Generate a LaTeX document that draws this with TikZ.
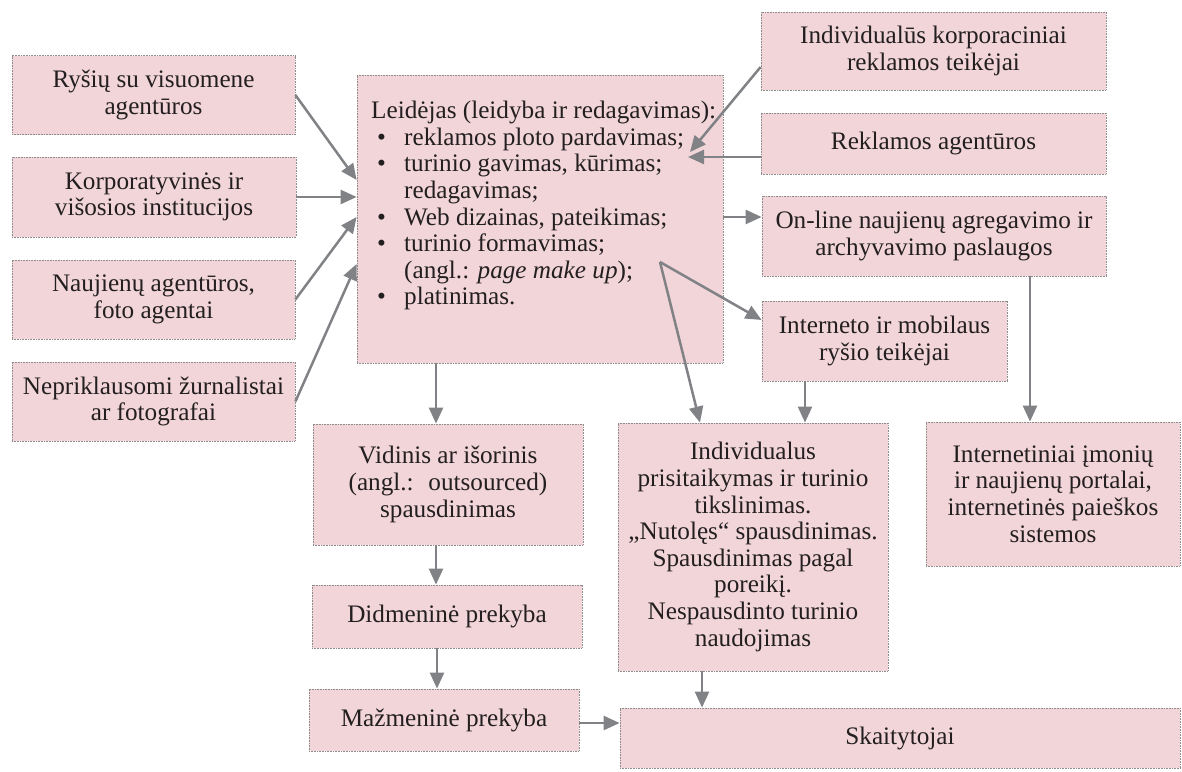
\documentclass[tikz,border=0pt]{standalone}
\usepackage{fontspec}
\setmainfont{Liberation Serif}
\usetikzlibrary{arrows.meta}
\definecolor{boxfill}{HTML}{F2D5D9}
\definecolor{boxline}{HTML}{8C8C8C}
\definecolor{arrowgray}{HTML}{808285}
\definecolor{inkdark}{HTML}{231F20}
\newcommand{\itm}[1]{\hspace*{6pt}\makebox[27pt][l]{\textbullet}#1}
\newcommand{\cnt}[1]{\hspace*{33pt}#1}
\begin{document}
\begin{tikzpicture}[x=1pt,y=-1pt,
  box/.style={draw=boxline, line width=0.8pt, dash pattern=on 0.8pt off 0.8pt,
    fill=boxfill, align=center, inner sep=0pt, text=inkdark,
    font=\fontsize{25.2}{26.6}\selectfont},
  plain/.style={inner sep=0pt, align=left, text=inkdark,
    font=\fontsize{25.2}{26.6}\selectfont},
  conn/.style={draw=arrowgray, line width=2.5pt, -{Triangle[length=16pt,width=14pt]}},
]
\useasboundingbox (0,0) rectangle (1182,771);

% sources on the left
\node[box, minimum width=283, minimum height=79] (rysiu) at (153.5,95)
  {Ryšių su visuomene\\agentūros};
\node[box, minimum width=284, minimum height=80] (korp) at (154,197)
  {Korporatyvinės ir\\višosios institucijos};
\node[box, minimum width=283, minimum height=79] (naujienu) at (153.5,299.5)
  {Naujienų agentūros,\\foto agentai};
\node[box, minimum width=283, minimum height=79] (neprik) at (153.5,401.5)
  {Nepriklausomi žurnalistai\\ar fotografai};

% publisher
\node[box, minimum width=366, minimum height=288] (leid) at (540,219) {};
\node[plain, anchor=north west] (leidtext) at (371,101) {%
  Leidėjas (leidyba ir redagavimas):\\
  \itm{reklamos ploto pardavimas;}\\
  \itm{turinio gavimas, kūrimas;}\\
  \cnt{redagavimas;}\\
  \itm{Web dizainas, pateikimas;}\\
  \itm{turinio formavimas;}\\
  \cnt{(angl.: \textit{page make up});}\\
  \itm{platinimas.}};

% right column
\node[box, minimum width=345, minimum height=78] (indkorp) at (933.5,51)
  {Individualūs korporaciniai\\reklamos teikėjai};
\node[box, minimum width=345, minimum height=61] (reklag) at (933.5,143.5)
  {Reklamos agentūros};
\node[box, minimum width=344, minimum height=80] (online) at (934,236)
  {On-line naujienų agregavimo ir\\archyvavimo paslaugos};
\node[box, minimum width=245, minimum height=80] (interneto) at (884.5,341)
  {Interneto ir mobilaus\\ryšio teikėjai};

% lower part
\node[box, minimum width=270, minimum height=121] (vidinis) at (448,484.5)
  {Vidinis ar išorinis\\(angl.:~ outsourced)\\spausdinimas};
\node[box, minimum width=270, minimum height=63] (didm) at (447,616.5)
  {Didmeninė prekyba};
\node[box, minimum width=270, minimum height=62] (mazm) at (444,720)
  {Mažmeninė prekyba};
\node[box, minimum width=270, minimum height=248] (individ) at (753,547)
  {Individualus\\prisitaikymas ir turinio\\tikslinimas.\\„Nutolęs“ spausdinimas.\\Spausdinimas pagal\\poreikį.\\Nespausdinto turinio\\naudojimas};
\node[box, minimum width=254, minimum height=144] (portalai) at (1053,494)
  {Internetiniai įmonių\\ir naujienų portalai,\\internetinės paieškos\\sistemos};
\node[box, minimum width=560, minimum height=60] (skait) at (900,738)
  {Skaitytojai};

% arrow points inside the publisher box
\coordinate (tipA) at (690,152);
\coordinate (tipB) at (688,157);
\coordinate (split) at (660,262);

% connectors
\draw[conn] (rysiu.east) -- (leid.west |- 0,180);
\draw[conn] (korp.east) -- (leid.west |- korp.east);
\draw[conn] (naujienu.east) -- (leid.west |- 0,217);
\draw[conn] (neprik.east) -- (leid.west |- 0,264);
\draw[conn] (indkorp.west |- 0,67) -- (tipA);
\draw[conn] (reklag.west |- tipB) -- (tipB);
\draw[conn] (leid.east |- 0,217) -- (online.west |- 0,217);
\draw[conn] (split) -- (interneto.west |- 0,320);
\draw[conn] (split) -- (individ.north -| 700,0);
\draw[conn] (leid.south -| 436,0) -- (vidinis.north -| 436,0);
\draw[conn] (vidinis.south -| 436,0) -- (didm.north -| 436,0);
\draw[conn] (didm.south -| 437,0) -- (mazm.north -| 437,0);
\draw[conn] (mazm.east |- 0,723) -- (skait.west |- 0,723);
\draw[conn] (interneto.south -| 805,0) -- (individ.north -| 805,0);
\draw[conn] (online.south -| 1030,0) -- (portalai.north -| 1030,0);
\draw[conn] (individ.south -| 702,0) -- (skait.north -| 702,0);
\end{tikzpicture}
\end{document}
